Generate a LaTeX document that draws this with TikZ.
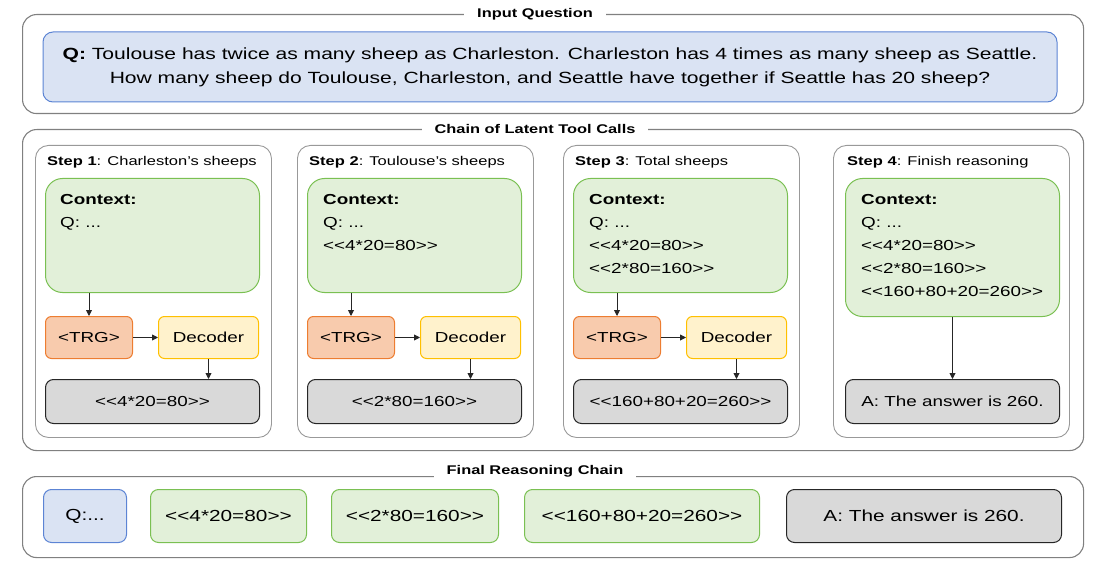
\documentclass[tikz,border=0pt]{standalone}
\usepackage{fontspec}
\setmainfont{Liberation Sans}[FakeStretch=1.3,Ligatures=TeXOff]
\usetikzlibrary{arrows.meta,positioning}
\definecolor{qfill}{RGB}{218,227,243}
\definecolor{qline}{RGB}{92,132,212}
\definecolor{cfill}{RGB}{226,240,217}
\definecolor{cline}{RGB}{122,192,82}
\definecolor{tfill}{RGB}{248,203,173}
\definecolor{tline}{RGB}{237,125,49}
\definecolor{dfill}{RGB}{255,242,204}
\definecolor{dline}{RGB}{255,192,0}
\definecolor{rfill}{RGB}{217,217,217}
\definecolor{pline}{RGB}{128,128,128}
\tikzset{
  panel/.style  ={draw=pline,line width=1.1pt,rounded corners=14pt,anchor=north west,
                  minimum width=1061pt,inner sep=0pt},
  ptitle/.style ={fill=white,inner xsep=13pt,inner ysep=1pt,
                  font=\fontsize{12.6}{14}\selectfont\bfseries},
  qbox/.style   ={draw=qline,fill=qfill,line width=1pt,rounded corners=10pt,align=center,
                  minimum width=1014pt,minimum height=70pt,inner sep=0pt,
                  font=\fontsize{16.2}{24}\selectfont},
  stepbox/.style={draw=pline!80,line width=0.9pt,rounded corners=13pt,anchor=north west,
                  minimum width=236pt,minimum height=292pt,inner sep=0pt},
  stitle/.style ={anchor=west,inner sep=0pt,font=\fontsize{12.7}{15}\selectfont},
  ctx/.style    ={draw=cline,fill=cfill,line width=1pt,rounded corners=17pt,anchor=north west,
                  minimum width=214pt,inner sep=0pt},
  ctxtxt/.style ={anchor=north west,align=left,inner sep=0pt,
                  font=\fontsize{14.5}{23}\selectfont},
  trg/.style    ={draw=tline,fill=tfill,line width=1pt,rounded corners=6pt,
                  minimum width=87pt,minimum height=42pt,inner sep=0pt,
                  font=\fontsize{14.5}{17}\selectfont},
  dec/.style    ={draw=dline,fill=dfill,line width=1pt,rounded corners=6pt,
                  minimum width=100pt,minimum height=42pt,inner sep=0pt,
                  font=\fontsize{14.5}{17}\selectfont},
  res/.style    ={draw=black!85,fill=rfill,line width=1pt,rounded corners=8pt,anchor=north west,
                  minimum width=214pt,minimum height=44pt,inner sep=0pt,
                  font=\fontsize{14.5}{17}\selectfont},
  chq/.style    ={draw=qline,fill=qfill,line width=1pt,rounded corners=8pt,
                  minimum width=83pt,minimum height=53pt,inner sep=0pt,
                  font=\fontsize{16}{19}\selectfont},
  chc/.style    ={draw=cline,fill=cfill,line width=1pt,rounded corners=8pt,
                  minimum height=53pt,inner sep=0pt,font=\fontsize{16}{19}\selectfont},
  cha/.style    ={draw=black!85,fill=rfill,line width=1pt,rounded corners=8pt,
                  minimum height=53pt,inner sep=0pt,font=\fontsize{16}{19}\selectfont},
  ar/.style     ={-{Triangle[length=6pt,width=6pt]},line width=0.9pt,draw=black!85},
}

\begin{document}
\begin{tikzpicture}[x=1pt,y=-1pt]
\useasboundingbox (0,0) rectangle (1115,585);

% input question
\node[panel,minimum height=99pt] (inp) at (22,14) {};
\node[ptitle] (inpT) at (535,14) {Input Question};
\node[qbox] (q) at (550,67) {\textbf{Q:} Toulouse has twice as many sheep as Charleston. Charleston has 4 times as many sheep as Seattle.\\
  How many sheep do Toulouse, Charleston, and Seattle have together if Seattle has 20 sheep?};

% chain of latent tool calls
\node[panel,minimum height=321pt] (chn) at (22,129) {};
\node[ptitle] (chnT) at (535,129) {Chain of Latent Tool Calls};

% step 1
\node[stepbox] (s1) at (35,145) {};
\node[stitle] (s1T) at (47,162) {\textbf{Step 1}: Charleston’s sheeps};
\node[ctx,minimum height=114pt] (c1) at (45,178) {};
\node[ctxtxt] (c1T) at (60,194) {\textbf{Context:}\\Q: ...};
\node[trg,anchor=north west] (t1) at (45,316) {<TRG>};
\node[dec,right=25pt of t1] (d1) {Decoder};
\node[res] (r1) at (45,379) {<<4*20=80>>};
\draw[ar] (c1.south -| t1) -- (t1.north);
\draw[ar] (t1) -- (d1);
\draw[ar] (d1) -- (d1 |- r1.north);

% step 2
\node[stepbox] (s2) at (297,145) {};
\node[stitle] (s2T) at (309,162) {\textbf{Step 2}: Toulouse’s sheeps};
\node[ctx,minimum height=114pt] (c2) at (307,178) {};
\node[ctxtxt] (c2T) at (323,194) {\textbf{Context:}\\Q: ...\\<<4*20=80>>};
\node[trg,anchor=north west] (t2) at (307,316) {<TRG>};
\node[dec,right=25pt of t2] (d2) {Decoder};
\node[res] (r2) at (307,379) {<<2*80=160>>};
\draw[ar] (c2.south -| t2) -- (t2.north);
\draw[ar] (t2) -- (d2);
\draw[ar] (d2) -- (d2 |- r2.north);

% step 3
\node[stepbox] (s3) at (563,145) {};
\node[stitle] (s3T) at (575,162) {\textbf{Step 3}: Total sheeps};
\node[ctx,minimum height=114pt] (c3) at (573,178) {};
\node[ctxtxt] (c3T) at (589,194) {\textbf{Context:}\\Q: ...\\<<4*20=80>>\\<<2*80=160>>};
\node[trg,anchor=north west] (t3) at (573,316) {<TRG>};
\node[dec,right=25pt of t3] (d3) {Decoder};
\node[res] (r3) at (573,379) {<<160+80+20=260>>};
\draw[ar] (c3.south -| t3) -- (t3.north);
\draw[ar] (t3) -- (d3);
\draw[ar] (d3) -- (d3 |- r3.north);

% step 4
\node[stepbox] (s4) at (833,145) {};
\node[stitle] (s4T) at (847,162) {\textbf{Step 4}: Finish reasoning};
\node[ctx,minimum height=138pt] (c4) at (845,178) {};
\node[ctxtxt] (c4T) at (861,194) {\textbf{Context:}\\Q: ...\\<<4*20=80>>\\<<2*80=160>>\\<<160+80+20=260>>};
\node[res] (r4) at (845,379) {A: The answer is 260.};
\draw[ar] (c4) -- (r4);

% final reasoning chain
\node[panel,minimum height=81pt] (fin) at (22,476) {};
\node[ptitle] (finT) at (535,471) {Final Reasoning Chain};
\node[chq,anchor=north west] (fq) at (43,489) {Q:...};
\node[chc,right=23pt of fq,minimum width=156pt] (f1) {<<4*20=80>>};
\node[chc,right=24pt of f1,minimum width=167pt] (f2) {<<2*80=160>>};
\node[chc,right=25pt of f2,minimum width=235pt] (f3) {<<160+80+20=260>>};
\node[cha,right=26pt of f3,minimum width=275pt] (f4) {A: The answer is 260.};
\end{tikzpicture}
\end{document}
